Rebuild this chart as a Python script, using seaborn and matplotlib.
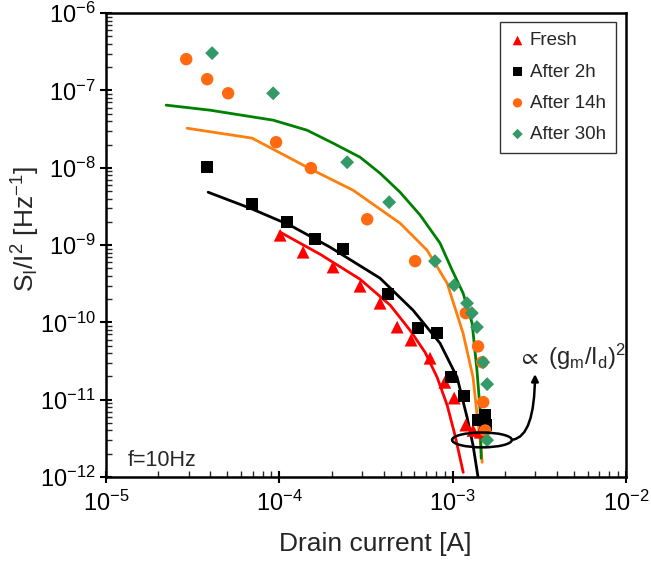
import numpy as np
import matplotlib
matplotlib.use("Agg")
import matplotlib.pyplot as plt
import seaborn as sns
from matplotlib.patches import Ellipse
from matplotlib.ticker import LogLocator, NullFormatter

# markers
fresh_x = [1.01e-4, 1.37e-4, 2.04e-4, 2.92e-4, 3.81e-4, 4.78e-4, 5.75e-4, 7.4e-4, 9.0e-4, 1.02e-3, 1.19e-3, 1.31e-3, 1.44e-3]
fresh_y = [1.34e-9, 8.1e-10, 5.2e-10, 2.94e-10, 1.77e-10, 8.7e-11, 5.9e-11, 3.44e-11, 1.68e-11, 1.05e-11, 4.7e-12, 4.0e-12, 3.8e-12]

h2_x = [3.83e-5, 6.95e-5, 1.107e-4, 1.61e-4, 2.33e-4, 4.24e-4, 6.31e-4, 8.1e-4, 9.8e-4, 1.16e-3, 1.40e-3, 1.54e-3, 1.56e-3]
h2_y = [1.02e-8, 3.38e-9, 1.98e-9, 1.19e-9, 8.85e-10, 2.32e-10, 8.4e-11, 7.2e-11, 1.95e-11, 1.11e-11, 5.4e-12, 6.3e-12, 4.7e-12]

h14_x = [2.90e-5, 3.83e-5, 5.06e-5, 9.57e-5, 1.52e-4, 3.21e-4, 6.07e-4, 1.19e-3, 1.40e-3, 1.48e-3, 1.50e-3, 1.54e-3]
h14_y = [2.54e-7, 1.40e-7, 9.2e-8, 2.14e-8, 9.9e-9, 2.16e-9, 6.2e-10, 1.32e-10, 4.9e-11, 3.05e-11, 9.3e-12, 4.0e-12]

h30_x = [4.09e-5, 9.2e-5, 2.46e-4, 4.30e-4, 7.9e-4, 1.02e-3, 1.21e-3, 1.29e-3, 1.38e-3, 1.50e-3, 1.58e-3, 1.58e-3]
h30_y = [3.04e-7, 9.2e-8, 1.18e-8, 3.59e-9, 6.2e-10, 3.03e-10, 1.77e-10, 1.32e-10, 8.7e-11, 3.05e-11, 1.59e-11, 3.0e-12]

# model curves (gm/Id)^2
fit_fresh_x = [1.01e-4, 1.72e-4, 2.92e-4, 4.36e-4, 5.68e-4, 6.93e-4, 8.13e-4, 9.29e-4, 1.03e-3, 1.15e-3]
fit_fresh_y = [1.47e-9, 7.6e-10, 3.62e-10, 1.67e-10, 7.9e-11, 4.1e-11, 1.95e-11, 8.5e-12, 3.5e-12, 1.15e-12]

fit_h2_x = [3.88e-5, 6.78e-5, 1.15e-4, 1.96e-4, 3.81e-4, 5.90e-4, 8.45e-4, 1.06e-3, 1.21e-3, 1.31e-3, 1.40e-3]
fit_h2_y = [4.83e-9, 3.0e-9, 1.81e-9, 9.4e-10, 3.73e-10, 1.44e-10, 5.38e-11, 1.95e-11, 5.94e-12, 2.58e-12, 1.0e-12]

fit_h14_x = [2.93e-5, 6.95e-5, 1.56e-4, 2.66e-4, 4.97e-4, 7.11e-4, 9.29e-4, 1.148e-3, 1.31e-3, 1.38e-3, 1.44e-3, 1.48e-3]
fit_h14_y = [3.25e-8, 2.42e-8, 9.3e-9, 5.13e-9, 1.92e-9, 8.6e-10, 3.21e-10, 7.24e-11, 1.95e-11, 6.68e-12, 2.99e-12, 1.55e-12]

fit_h30_x = [2.22e-5, 3.98e-5, 9.2e-5, 1.445e-4, 2.04e-4, 2.92e-4, 3.81e-4, 4.97e-4, 6.49e-4, 8.45e-4, 9.93e-4, 1.148e-3, 1.294e-3, 1.38e-3, 1.44e-3, 1.46e-3]
fit_h30_y = [6.46e-8, 5.56e-8, 4.13e-8, 3.06e-8, 2.08e-8, 1.37e-8, 8.5e-9, 4.83e-9, 2.44e-9, 1.06e-9, 4.73e-10, 2.39e-10, 9.8e-11, 2.41e-11, 7.31e-12, 1.75e-12]

sns.set_style("ticks")
plt.rcParams["font.family"] = ["Liberation Sans", "DejaVu Sans"]
plt.rcParams["mathtext.fontset"] = "custom"
plt.rcParams["mathtext.rm"] = "Liberation Sans"
plt.rcParams["mathtext.it"] = "Liberation Sans"
plt.rcParams["mathtext.default"] = "regular"
plt.rcParams["axes.unicode_minus"] = False

fig = plt.figure(figsize=(6.51, 5.72), dpi=100)
ax = fig.add_axes([0.163, 0.166, 0.7986, 0.811])

# lines first, markers on top
for fx, fy, c in [(fit_fresh_x, fit_fresh_y, "#ff0000"),
                  (fit_h2_x, fit_h2_y, "black"),
                  (fit_h14_x, fit_h14_y, "#ff7f0e"),
                  (fit_h30_x, fit_h30_y, "#008000")]:
    sns.lineplot(x=fx, y=fy, color=c, lw=2, sort=False, estimator=None, ax=ax)

sns.scatterplot(x=fresh_x, y=fresh_y, marker="^", s=85, color="#ff0000", edgecolor="none", label="Fresh", ax=ax, zorder=3)
sns.scatterplot(x=h2_x, y=h2_y, marker="s", s=75, color="black", edgecolor="none", label="After 2h", ax=ax, zorder=3)
sns.scatterplot(x=h14_x, y=h14_y, marker="o", s=80, color="#ff6a10", edgecolor="none", label="After 14h", ax=ax, zorder=3)
sns.scatterplot(x=h30_x, y=h30_y, marker="D", s=50, color="#339966", edgecolor="none", label="After 30h", ax=ax, zorder=3)

ax.set_xscale("log")
ax.set_yscale("log")
ax.set_xlim(1e-5, 1e-2)
ax.set_ylim(1e-12, 1e-6)

for a in (ax.xaxis, ax.yaxis):
    a.set_minor_locator(LogLocator(base=10, subs=np.arange(2, 10), numticks=100))
    a.set_minor_formatter(NullFormatter())
ax.tick_params(which="major", direction="inout", length=8, width=1.5, labelsize=17, colors="black")
ax.tick_params(which="minor", direction="in", length=4, width=1.0)
ax.tick_params(axis="x", pad=6)

for sp in ax.spines.values():
    sp.set_linewidth(1.8)
    sp.set_color("black")
    sp.set_visible(True)

ax.set_xlabel("Drain current [A]", fontsize=19)
ax.set_ylabel(r"S$_\mathregular{I}$/I$^2$ [Hz$^{-1}$]", fontsize=19)
ax.xaxis.set_label_coords(0.517, -0.118)
ax.yaxis.set_label_coords(-0.123, 0.534)

leg = ax.legend(loc="upper right", bbox_to_anchor=(0.981, 0.981), borderaxespad=0, fontsize=13.5,
                frameon=True, fancybox=False, edgecolor="black", handletextpad=0.25, handlelength=0.8,
                labelspacing=0.75, borderpad=0.55, markerscale=0.75)
leg.get_frame().set_linewidth(1.0)

ax.text(0.042, 0.035, "f=10Hz", transform=ax.transAxes, fontsize=15.5, ha="left", va="center")

ax.add_patch(Ellipse((0.723, 0.08), 0.115, 0.032, transform=ax.transAxes,
                     fill=False, edgecolor="black", lw=1.8, zorder=4))
ax.annotate("", xy=(0.825, 0.228), xytext=(0.777, 0.08),
            xycoords="axes fraction", textcoords="axes fraction",
            arrowprops=dict(arrowstyle="-|>", color="black", lw=1.8,
                            connectionstyle="angle3,angleA=0,angleB=90"))
ax.text(0.792, 0.258, r"$\propto$ (g$_m$/I$_d$)$^2$", transform=ax.transAxes,
        fontsize=17, ha="left", va="center")

fig.savefig("out.png", dpi=100)
